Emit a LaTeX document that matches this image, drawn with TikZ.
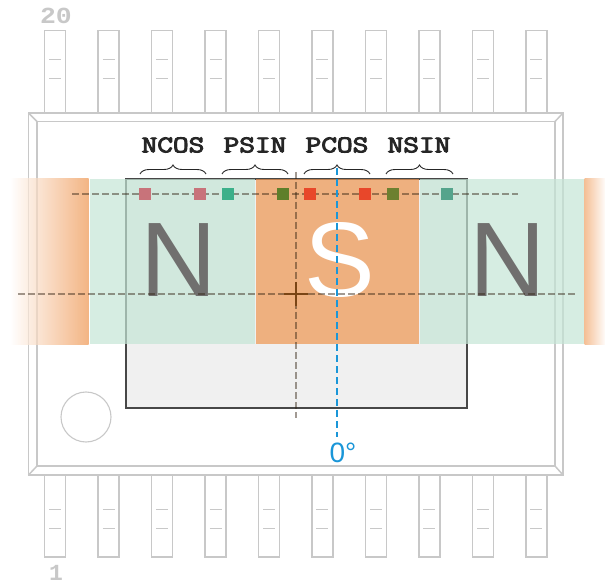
\documentclass[tikz,border=0pt]{standalone}
\usepackage{fontspec}
\usetikzlibrary{decorations.pathreplacing}
\newfontfamily\labelfont{Liberation Mono}
\newfontfamily\polefont{Liberation Sans}
\newfontfamily\sensorfont[FakeBold=3.5]{Latin Modern Mono}
\definecolor{pkggray}{HTML}{C8C8C8}
\definecolor{magorange}{HTML}{EE9550}
\definecolor{maggreen}{HTML}{C4E5D5}
\definecolor{polegray}{HTML}{706F6E}
\definecolor{zeroblue}{HTML}{1A96D8}
\definecolor{crossbrown}{HTML}{7A4515}
\tikzset{
  pkgline/.style={draw=pkggray,line width=1.5pt},
  band/.style={opacity=.7},
  pad/.style={minimum size=12pt,inner sep=0pt,fill=#1},
  pole/.style={font=\polefont\fontsize{106}{106}\selectfont,inner sep=0pt},
  pinname/.style={font=\labelfont\bfseries\fontsize{23}{23}\selectfont,text=pkggray,inner sep=0pt},
  sensor/.style={font=\sensorfont\fontsize{24}{24}\selectfont,text=black!85,inner sep=0pt},
  bracket/.style={decorate,decoration={brace,amplitude=9pt},draw=black!85,line width=.9pt},
  axisline/.style={dash pattern=on 7pt off 3pt,draw=black!75!brown,opacity=.45,line width=1.1pt},
}
\newcommand{\wide}[2][1.27]{\scalebox{#1}[1]{#2}}
\begin{document}
\begin{tikzpicture}[x=1pt,y=-1pt]
\useasboundingbox (0,0) rectangle (605,585);
% pins
\foreach \px in {55,108.6,162,215.6,269,322.3,376,429.4,483,536.3} {
  \draw[pkgline] (\px-10.5,113) -- (\px-10.5,30.5) -- (\px+10.5,30.5) -- (\px+10.5,113);
  \draw[pkgline,line width=1pt] (\px-6,60) -- (\px+6,60) (\px-6,79) -- (\px+6,79);
  \draw[pkgline] (\px-10.5,475) -- (\px-10.5,557) -- (\px+10.5,557) -- (\px+10.5,475);
  \draw[pkgline,line width=1pt] (\px-6,509) -- (\px+6,509) (\px-6,528) -- (\px+6,528);
}
% package body
\draw[pkgline] (28.5,113) rectangle (563,475);
\draw[pkgline] (37,121.5) rectangle (555,466);
\draw[pkgline] (28.5,113) -- (37,121.5) (563,113) -- (555,121.5) (28.5,475) -- (37,466) (563,475) -- (555,466);
\draw[pkgline,line width=1.1pt] (86,417) circle (25);
% die
\draw[fill=black!6,draw=black!72,line width=1.3pt] (126,179) rectangle (467,408);
% magnet
\shade[band,left color=white,middle color=magorange!42,right color=magorange] (10,179) rectangle (88.5,344);
\fill[band,maggreen] (89.5,179) rectangle (255.2,344);
\fill[band,magorange] (256.2,179) rectangle (418.5,344);
\fill[band,maggreen] (419.5,179) rectangle (584,344);
\shade[band,left color=magorange!85,right color=magorange!5] (584.5,179) rectangle (605,344);
% poles
\node[pole,text=polegray] (northa) at (178.5,260) {N};
\node[pole,text=white] (south) at (340,260) {S};
\node[pole,text=polegray] (northb) at (507.5,260) {N};
% axes
\coordinate (rowl) at (72,194);
\coordinate (rowr) at (518,194);
\coordinate (midl) at (18,294);
\coordinate (midr) at (575,294);
\coordinate (centt) at (296,172);
\coordinate (centb) at (296,418);
\draw[axisline] (rowl) -- (rowr);
\draw[axisline] (midl) -- (midr);
\draw[axisline] (centt) -- (centb);
\draw[draw=crossbrown,line width=2.6pt] (284,294) -- (308,294) (296,282) -- (296,306);
% hall pads
\definecolor{padrose}{HTML}{C8737A}
\definecolor{padteal}{HTML}{3CB08A}
\definecolor{padolive}{HTML}{5E7F2A}
\definecolor{padred}{HTML}{E8472A}
\definecolor{padmoss}{HTML}{6D8030}
\definecolor{padsea}{HTML}{55A48C}
\node[pad=padrose] (ncosa) at (145,194) {};
\node[pad=padrose] (ncosb) at (200,194) {};
\node[pad=padteal] (psina) at (228,194) {};
\node[pad=padolive] (psinb) at (283,194) {};
\node[pad=padred] (pcosa) at (310,194) {};
\node[pad=padred] (pcosb) at (365,194) {};
\node[pad=padmoss] (nsina) at (393,194) {};
\node[pad=padsea] (nsinb) at (447,194) {};
% zero line
\coordinate (zerot) at (337,168);
\node[font=\polefont\fontsize{28}{28}\selectfont,text=zeroblue,inner sep=0pt] (zero) at (343,453) {0°};
\draw[zeroblue,dash pattern=on 7pt off 4pt,line width=1.1pt] (zerot) -- (337,437);
% sensor groups
\coordinate (bl1) at (140,174);
\coordinate (br1) at (206,174);
\coordinate (bl2) at (222,174);
\coordinate (br2) at (288,174);
\coordinate (bl3) at (304,174);
\coordinate (br3) at (370,174);
\coordinate (bl4) at (386,174);
\coordinate (br4) at (453,174);
\draw[bracket] (bl1) -- (br1);
\draw[bracket] (bl2) -- (br2);
\draw[bracket] (bl3) -- (br3);
\draw[bracket] (bl4) -- (br4);
\node[sensor] (ncos) at (173,145) {\wide{NCOS}};
\node[sensor] (psin) at (255,145) {\wide{PSIN}};
\node[sensor] (pcos) at (337,145) {\wide{PCOS}};
\node[sensor] (nsin) at (419,145) {\wide{NSIN}};
% pin numbers
\node[pinname] (pintop) at (56,16) {\wide[1.15]{20}};
\node[pinname] (pinbot) at (56,573) {1};
\end{tikzpicture}
\end{document}
